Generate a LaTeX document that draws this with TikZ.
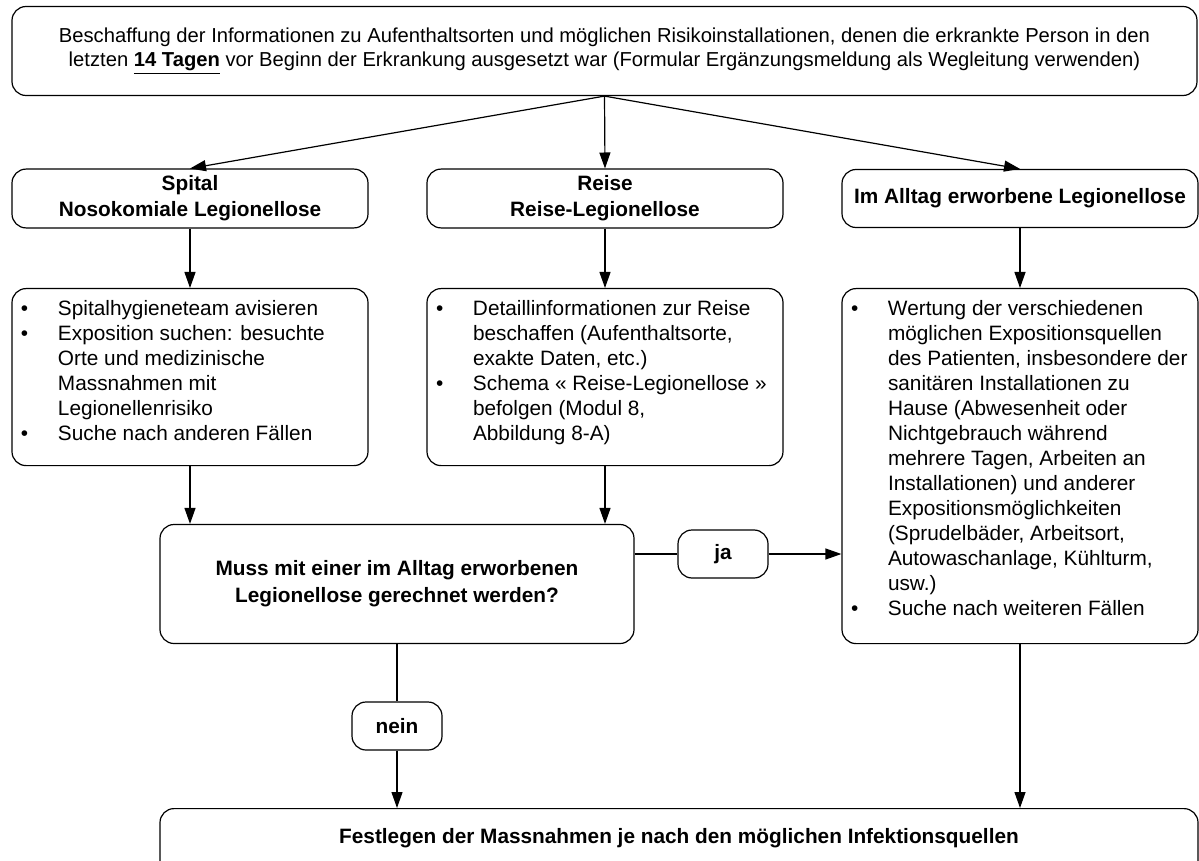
\documentclass[tikz,border=0pt]{standalone}
\usepackage{fontspec}
\setmainfont{Liberation Sans}
\usetikzlibrary{arrows.meta}

\newcommand{\pkt}{\hspace*{1.5pt}\makebox[18.5pt][l]{\textbullet}}
\newcommand{\ein}{\hspace*{20pt}}

\begin{document}
\begin{tikzpicture}[
  x=0.5pt, y=-0.5pt,
  line width=0.6pt,
  topnode/.style={rectangle, rounded corners=7pt, draw, minimum width=592.5pt, minimum height=44.5pt, align=center, font=\fontsize{10.1}{12}\selectfont},
  headnode/.style={rectangle, rounded corners=7pt, draw, minimum width=178pt, minimum height=29pt, align=center, font=\bfseries\fontsize{10.4}{13}\selectfont},
  listnode/.style={rectangle, rounded corners=7pt, draw, anchor=north, inner xsep=3pt, inner ysep=6pt, font=\fontsize{10.4}{12.5}\selectfont},
  asknode/.style={rectangle, rounded corners=7pt, draw, minimum width=237pt, minimum height=59.5pt, align=center, font=\bfseries\fontsize{10.4}{13.5}\selectfont},
  choicenode/.style={rectangle, rounded corners=7pt, draw, minimum width=45pt, minimum height=24pt, font=\bfseries\fontsize{10.4}{12.5}\selectfont},
  endnode/.style={rectangle, rounded corners=7pt, draw, anchor=north, minimum width=519pt, inner ysep=10pt, text height=7.5pt, text depth=20pt, font=\bfseries\fontsize{10.4}{12.5}\selectfont},
  arr/.style={-{Triangle[length=8pt,width=5.5pt]}},
]
\useasboundingbox (0,0) rectangle (1199,861);

\node[topnode] (info) at (604.5,51) {Beschaffung der Informationen zu Aufenthaltsorten und möglichen Risikoinstallationen, denen die erkrankte Person in den\\
letzten \textbf{\underline{14 Tagen}} vor Beginn der Erkrankung ausgesetzt war (Formular Ergänzungsmeldung als Wegleitung verwenden)};

\node[headnode] (spital) at (190,198.5) {Spital\\ Nosokomiale Legionellose};
\node[headnode] (reise) at (605,198.5) {Reise\\ Reise-Legionellose};
\node[headnode] (alltag) at (1020,198.5) {Im Alltag erworbene Legionellose};

\node[listnode] (spitalliste) at (190,288) {\parbox[c][76.5pt][t]{172pt}{%
\pkt Spitalhygieneteam avisieren\\
\pkt Exposition suchen: besuchte\\
\ein Orte und medizinische\\
\ein Massnahmen mit\\
\ein Legionellenrisiko\\
\pkt Suche nach anderen Fällen}};
\node[listnode] (reiseliste) at (605,288) {\parbox[c][76.5pt][t]{172pt}{%
\pkt Detaillinformationen zur Reise\\
\ein beschaffen (Aufenthaltsorte,\\
\ein exakte Daten, etc.)\\
\pkt Schema « Reise-Legionellose »\\
\ein befolgen (Modul 8,\\
\ein Abbildung 8-A)}};
\node[listnode] (alltagliste) at (1020,288) {\parbox[c][165.5pt][t]{172pt}{%
\pkt Wertung der verschiedenen\\
\ein möglichen Expositionsquellen\\
\ein des Patienten, insbesondere der\\
\ein sanitären Installationen zu\\
\ein Hause (Abwesenheit oder\\
\ein Nichtgebrauch während\\
\ein mehrere Tagen, Arbeiten an\\
\ein Installationen) und anderer\\
\ein Expositionsmöglichkeiten\\
\ein (Sprudelbäder, Arbeitsort,\\
\ein Autowaschanlage, Kühlturm,\\
\ein usw.)\\
\pkt Suche nach weiteren Fällen}};

\node[asknode] (frage) at (397,584) {Muss mit einer im Alltag erworbenen\\ Legionellose gerechnet werden?};
\node[choicenode] (ja) at (723,554) {ja};
\node[choicenode] (nein) at (397,726) {nein};

\node[endnode] (massnahmen) at (679,808) {Festlegen der Massnahmen je nach den möglichen Infektionsquellen};

\draw[arr] (info.south) -- (spital.north);
\draw[arr] (info.south) -- (reise.north);
\draw[arr] (info.south) -- (alltag.north);

\draw[arr] (spital) -- (spitalliste);
\draw[arr] (reise) -- (reiseliste);
\draw[arr] (alltag) -- (alltagliste);

\draw[arr] (spitalliste) -- (spitalliste |- frage.north);
\draw[arr] (reiseliste) -- (reiseliste |- frage.north);

\draw (ja -| frage.east) -- (ja.west);
\draw[arr] (ja.east) -- (ja -| alltagliste.west);
\draw (frage) -- (nein);
\draw[arr] (nein) -- (nein |- massnahmen.north);
\draw[arr] (alltagliste) -- (alltagliste |- massnahmen.north);

\end{tikzpicture}
\end{document}
